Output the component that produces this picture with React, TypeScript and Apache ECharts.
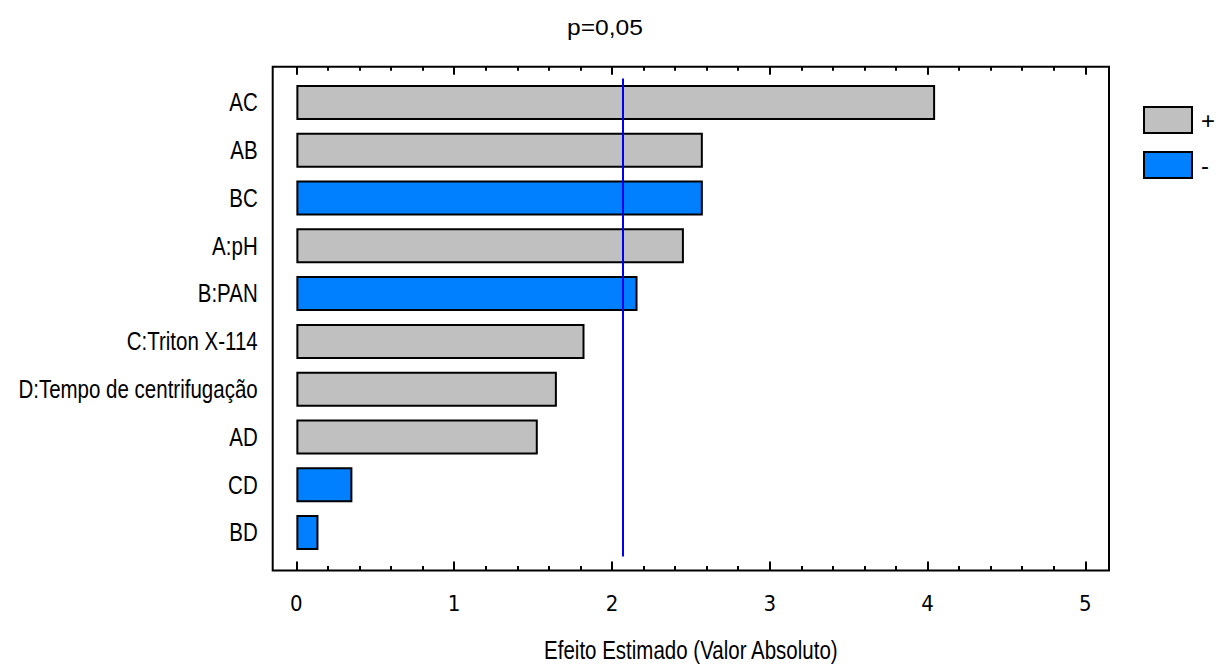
import React, { useEffect, useRef } from "react";
import * as echarts from "echarts";

const categories = [
  "AC",
  "AB",
  "BC",
  "A:pH",
  "B:PAN",
  "C:Triton X-114",
  "D:Tempo de centrifugação",
  "AD",
  "CD",
  "BD",
];
const effects = [4.048, 2.576, 2.576, 2.456, 2.162, 1.826, 1.651, 1.53, 0.355, 0.14];
const signs = ["+", "+", "-", "+", "-", "+", "+", "+", "-", "-"];
const criticalValue = 2.069;
const majorTicks = [0, 1, 2, 3, 4, 5];
const minorTicks = [
  0.2, 0.4, 0.6, 0.8, 1.2, 1.4, 1.6, 1.8, 2.2, 2.4, 2.6, 2.8, 3.2, 3.4, 3.6, 3.8,
  4.2, 4.4, 4.6, 4.8,
];
const legendNames = ["+", "-"];
const titleText = "p=0,05";
const xName = "Efeito Estimado (Valor Absoluto)";

const SANS = '"Liberation Sans", Arial, sans-serif';
const COND = '"DejaVu Sans Condensed", "Liberation Sans Narrow", sans-serif';
const NARROW_SCALE = 0.82;
const XMIN = -0.15;
const XMAX = 5.15;

export default function App() {
  const ref = useRef<HTMLDivElement>(null);
  useEffect(() => {
    if (!ref.current) return;
    const chart = echarts.init(ref.current, null, { renderer: "svg" });
    const posData = effects.map((v, i) => (signs[i] === "+" ? v : "-"));
    const negData = effects.map((v, i) => (signs[i] === "-" ? v : "-"));
    const tickAxis = (position: "top" | "bottom", ticks: number[], len: number, labels: boolean) => ({
      type: "value",
      gridIndex: 0,
      position,
      min: XMIN,
      max: XMAX,
      axisLine: { show: false },
      splitLine: { show: false },
      axisTick: {
        show: true,
        inside: true,
        length: len,
        customValues: ticks,
        lineStyle: { color: "#000", width: 2 },
      },
      axisLabel: labels
        ? {
            show: true,
            customValues: ticks,
            margin: 22,
            color: "#000",
            fontFamily: COND,
            fontSize: 22,
          }
        : { show: false },
    });
    chart.setOption({
      animation: false,
      backgroundColor: "#fff",
      legend: {
        orient: "vertical",
        left: 1138,
        top: 101,
        itemWidth: 48,
        itemHeight: 26,
        itemGap: 17,
        icon: "rect",
        data: legendNames,
        itemStyle: { borderColor: "#000", borderWidth: 2 },
        textStyle: {
          fontFamily: SANS,
          fontSize: 24,
          color: "#000000",
          padding: [0, 0, 0, 4],
        },
      },
      grid: [
        {
          left: 272.7,
          top: 66.7,
          width: 836.3,
          height: 503.7,
          show: true,
          borderColor: "#000",
          borderWidth: 2,
          backgroundColor: "transparent",
          outerBoundsMode: "none",
          containLabel: false,
        },
        {
          left: 272.7,
          top: 78.5,
          width: 836.3,
          height: 478,
          outerBoundsMode: "none",
          containLabel: false,
        },
      ],
      xAxis: [
        tickAxis("bottom", majorTicks, 9, true),
        tickAxis("bottom", minorTicks, 4.5, false),
        tickAxis("top", majorTicks, 8, false),
        tickAxis("top", minorTicks, 4, false),
        {
          type: "value",
          gridIndex: 1,
          min: XMIN,
          max: XMAX,
          show: false,
        },
      ],
      yAxis: [
        { type: "value", gridIndex: 0, show: false },
        {
          type: "category",
          gridIndex: 1,
          inverse: true,
          data: categories,
          axisLine: { show: false },
          axisTick: { show: false },
          splitLine: { show: false },
          axisLabel: { show: false },
        },
      ],
      series: [
        {
          name: legendNames[0],
          type: "bar",
          xAxisIndex: 4,
          yAxisIndex: 1,
          stack: "effect",
          barWidth: 35,
          data: posData,
          itemStyle: { color: "#C0C0C0", borderColor: "#000", borderWidth: 2 },
          markLine: {
            silent: true,
            symbol: "none",
            label: { show: false },
            lineStyle: { color: "#0000F0", width: 2, type: "solid" },
            data: [{ xAxis: criticalValue }],
          },
        },
        {
          name: legendNames[1],
          type: "bar",
          xAxisIndex: 4,
          yAxisIndex: 1,
          stack: "effect",
          barWidth: 35,
          data: negData,
          itemStyle: { color: "#0080FF", borderColor: "#000", borderWidth: 2 },
        },
      ],
    });

    // Category labels and axis name, drawn as narrow real text positioned by the library's scales
    const gridLeft = chart.convertToPixel({ xAxisIndex: 4 }, XMIN) as number;
    const gridRight = chart.convertToPixel({ xAxisIndex: 4 }, XMAX) as number;
    const elements: any[] = categories.map((c) => ({
      type: "text",
      x: gridLeft - 15,
      y: chart.convertToPixel({ yAxisIndex: 1 }, c) as number,
      scaleX: NARROW_SCALE,
      style: {
        text: c,
        x: 0,
        y: 0,
        align: "right",
        verticalAlign: "middle",
        font: `25px ${SANS}`,
        fill: "#000",
      },
    }));
    elements.push({
      type: "text",
      x: (gridLeft + gridRight) / 2,
      y: 650,
      scaleX: NARROW_SCALE,
      style: {
        text: xName,
        x: 0,
        y: 0,
        align: "center",
        verticalAlign: "middle",
        font: `25px ${SANS}`,
        fill: "#000",
      },
    });
    elements.push({
      type: "text",
      x: 605,
      y: 27,
      scaleX: 1.12,
      style: {
        text: titleText,
        x: 0,
        y: 0,
        align: "center",
        verticalAlign: "middle",
        font: `22px ${SANS}`,
        fill: "#000",
      },
    });
    chart.setOption({ graphic: { elements } });
    return () => chart.dispose();
  }, []);
  return (
    <div
      ref={ref}
      style={{ position: "fixed", left: 0, top: 0, width: 1223, height: 664, background: "#fff" }}
    />
  );
}
